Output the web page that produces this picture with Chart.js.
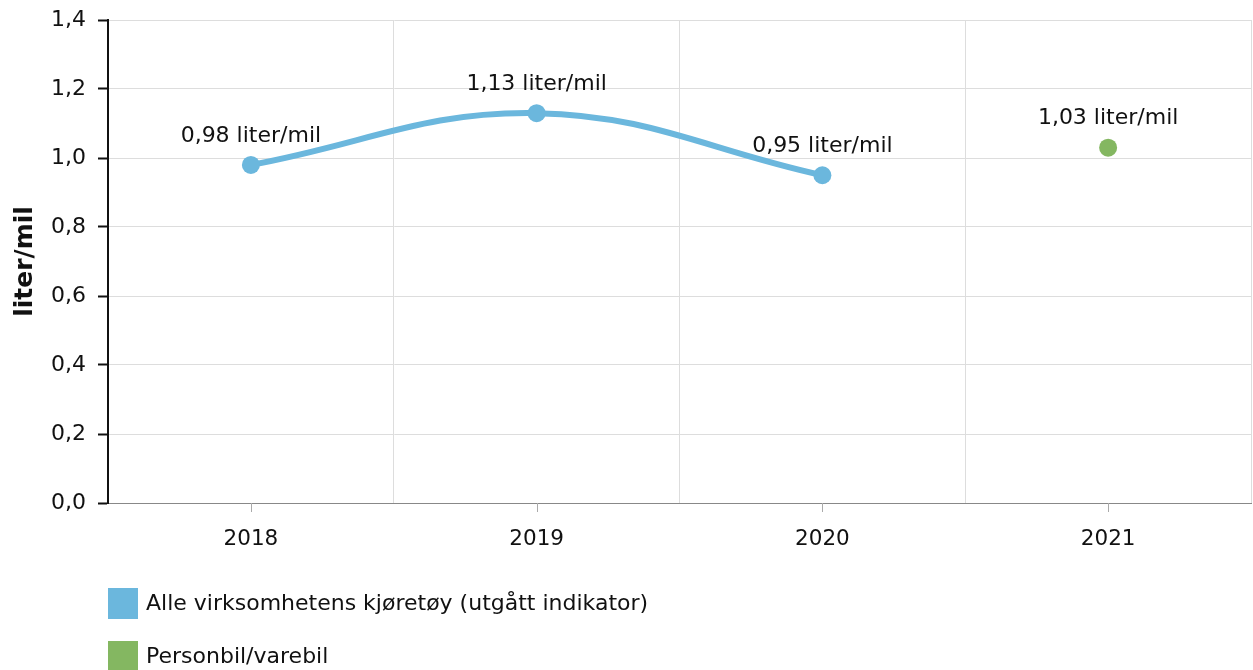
<!DOCTYPE html>
<html>
<head>
<meta charset="utf-8">
<script src="https://cdn.jsdelivr.net/npm/chart.js@4/dist/chart.umd.min.js"></script>
<style>
  html, body { margin: 0; padding: 0; background: #fff; }
  #wrap { width: 1253px; height: 670px; }
</style>
</head>
<body>
<div id="wrap"><canvas id="chart"></canvas></div>
<script>
const years = ["2018", "2019", "2020", "2021"];
const alleKjoretoy = [0.98, 1.13, 0.95, null];
const personbil = [null, null, null, 1.03];
const seriesNames = ["Alle virksomhetens kjøretøy (utgått indikator)", "Personbil/varebil"];
const yTicks = [0, 0.2, 0.4, 0.6, 0.8, 1.0, 1.2, 1.4];

const FONT = "'DejaVu Sans', Verdana, sans-serif";
const BLUE = "#6BB7DD";
const GREEN = "#84B761";

const fmt = (v, d) => v.toFixed(d).replace(".", ",");

// value labels above every point
const pointLabels = {
  id: "pointLabels",
  afterDatasetsDraw(chart) {
    const ctx = chart.ctx;
    ctx.save();
    ctx.fillStyle = "#111";
    ctx.font = "22px " + FONT;
    ctx.textAlign = "center";
    ctx.textBaseline = "middle";
    chart.data.datasets.forEach((ds, i) => {
      chart.getDatasetMeta(i).data.forEach((pt, j) => {
        const v = ds.data[j];
        if (v == null) return;
        ctx.fillText(fmt(v, 2) + " liter/mil", pt.x, pt.y - 29);
      });
    });
    ctx.restore();
  },
};

// small tick marks under the category centres + vertical legend
const extras = {
  id: "extras",
  afterDraw(chart) {
    const ctx = chart.ctx;
    const x = chart.scales.x;
    const bottom = chart.chartArea.bottom;
    ctx.save();
    ctx.strokeStyle = "#aaa";
    ctx.lineWidth = 1;
    years.forEach((y, i) => {
      const px = Math.round(x.getPixelForValue(i)) + 0.5;
      ctx.beginPath();
      ctx.moveTo(px, bottom);
      ctx.lineTo(px, bottom + 9);
      ctx.stroke();
    });

    ctx.font = "22px " + FONT;
    ctx.textBaseline = "middle";
    ctx.textAlign = "left";
    chart.data.datasets.forEach((ds, i) => {
      const top = 588 + i * 53;
      ctx.fillStyle = ds.borderColor;
      ctx.fillRect(108, top, 30, 31);
      ctx.fillStyle = "#111";
      ctx.fillText(seriesNames[i], 146, top + 16);
    });
    ctx.restore();
  },
};

new Chart(document.getElementById("chart"), {
  type: "line",
  data: {
    labels: years,
    datasets: [
      {
        label: seriesNames[0],
        data: alleKjoretoy,
        borderColor: BLUE,
        backgroundColor: BLUE,
        borderWidth: 6,
        tension: 0.4,
        pointRadius: 9,
        pointHoverRadius: 9,
        pointBorderWidth: 0,
      },
      {
        label: seriesNames[1],
        data: personbil,
        borderColor: GREEN,
        backgroundColor: GREEN,
        showLine: false,
        pointRadius: 9,
        pointHoverRadius: 9,
        pointBorderWidth: 0,
      },
    ],
  },
  options: {
    responsive: true,
    maintainAspectRatio: false,
    animation: false,
    layout: { autoPadding: false, padding: { top: 20, right: 2, left: 0, bottom: 107 } },
    plugins: { legend: { display: false }, tooltip: { enabled: false } },
    scales: {
      x: {
        offset: true,
        grid: { offset: true, color: "#dddddd", drawTicks: false },
        border: { color: "#888", width: 1 },
        ticks: { color: "#111", font: { family: FONT, size: 21.5 }, padding: 24 },
        afterFit(scale) {
          scale.height = 60;
          scale.paddingLeft = 0;
          scale.paddingRight = 0;
        },
      },
      y: {
        min: 0,
        max: 1.4,
        afterBuildTicks(scale) { scale.ticks = yTicks.map(v => ({ value: v })); },
        ticks: {
          color: "#111",
          font: { family: FONT, size: 22 },
          padding: 12,
          callback: v => fmt(v, 1),
        },
        grid: { color: "#dddddd", tickColor: "#111", tickLength: 10, tickWidth: 2 },
        border: { color: "#111", width: 2 },
        title: {
          display: true,
          text: "liter/mil",
          color: "#111",
          font: { family: FONT, size: 25, weight: "bold" },
          padding: { top: 10, bottom: 0 },
        },
        afterFit(scale) {
          scale.width = 108;
          scale.paddingTop = 0;
          scale.paddingBottom = 0;
        },
      },
    },
  },
  plugins: [pointLabels, extras],
});
</script>
</body>
</html>
